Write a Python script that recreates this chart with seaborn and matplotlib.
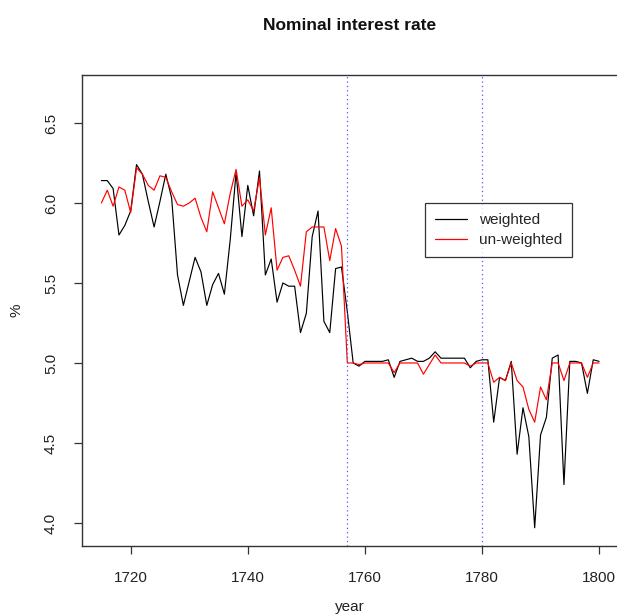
import numpy as np
import pandas as pd
import matplotlib
matplotlib.use("Agg")
import matplotlib.pyplot as plt
import seaborn as sns
from matplotlib.lines import Line2D

years = list(range(1715, 1801))
weighted = [6.14, 6.14, 6.09, 5.80, 5.86, 5.95, 6.24, 6.18, 6.01, 5.85,
            6.01, 6.18, 6.03, 5.55, 5.36, 5.51, 5.66, 5.57, 5.36, 5.49,
            5.56, 5.43, 5.77, 6.19, 5.79, 6.11, 5.92, 6.20, 5.55, 5.65,
            5.38, 5.50, 5.48, 5.48, 5.19, 5.31, 5.79, 5.95, 5.26, 5.19,
            5.59, 5.60, 5.32, 5.00, 4.98, 5.01, 5.01, 5.01, 5.01, 5.02,
            4.91, 5.01, 5.02, 5.03, 5.01, 5.01, 5.03, 5.07, 5.03, 5.03,
            5.03, 5.03, 5.03, 4.97, 5.01, 5.02, 5.02, 4.63, 4.91, 4.89,
            5.01, 4.43, 4.72, 4.54, 3.97, 4.55, 4.66, 5.03, 5.05, 4.24,
            5.01, 5.01, 5.00, 4.81, 5.02, 5.01]
unweighted = [6.00, 6.08, 5.98, 6.10, 6.08, 5.94, 6.22, 6.18, 6.11, 6.08,
              6.17, 6.16, 6.07, 5.99, 5.98, 6.00, 6.03, 5.91, 5.82, 6.07,
              5.97, 5.87, 6.06, 6.21, 5.98, 6.02, 5.95, 6.16, 5.80, 5.97,
              5.58, 5.66, 5.67, 5.58, 5.48, 5.82, 5.85, 5.85, 5.85, 5.64,
              5.84, 5.73, 5.00, 5.00, 4.99, 5.00, 5.00, 5.00, 5.00, 5.00,
              4.94, 5.00, 5.00, 5.00, 5.00, 4.93, 4.99, 5.05, 5.00, 5.00,
              5.00, 5.00, 5.00, 4.98, 5.00, 5.00, 5.00, 4.88, 4.91, 4.89,
              5.00, 4.89, 4.85, 4.71, 4.63, 4.85, 4.77, 5.00, 5.00, 4.89,
              5.00, 5.00, 5.00, 4.91, 5.00, 5.00]
series_names = ["weighted", "un-weighted"]
series_colors = ["black", "red"]
vlines = [1757, 1780]
xticks = [1720, 1740, 1760, 1780, 1800]
yticks = [4.0, 4.5, 5.0, 5.5, 6.0, 6.5]

df = pd.DataFrame({
    "year": years * 2,
    "value": weighted + unweighted,
    "series": [series_names[0]] * len(years) + [series_names[1]] * len(years),
})

sns.set_style("white")
plt.rcParams["font.family"] = ["Liberation Sans", "DejaVu Sans"]

fig = plt.figure(figsize=(6.17, 6.14), dpi=100)
ax = fig.add_axes([81.5 / 617, 1 - 546 / 614, 537.5 / 617, 471 / 614])

sns.lineplot(data=df, x="year", y="value", hue="series",
             palette=dict(zip(series_names, series_colors)),
             linewidth=0.85, ax=ax, legend=False)

for v in vlines:
    ax.axvline(v, color="#5555ff", linestyle=(0, (1, 2.5)), linewidth=0.9)

ax.set_xlim(1711.6, 1803.4)
ax.set_ylim(3.856, 6.8)
ax.set_xticks(xticks)
ax.set_xticklabels([str(t) for t in xticks], fontsize=11, color="#222222")
ax.set_yticks(yticks)
ax.set_yticklabels([f"{t:.1f}" for t in yticks], fontsize=11,
                   rotation=90, va="center", color="#222222")
ax.tick_params(axis="both", direction="out", length=6, width=0.9,
               color="#333333", left=True, bottom=True)
ax.tick_params(axis="x", pad=12)
ax.tick_params(axis="y", pad=11)
for s in ax.spines.values():
    s.set_visible(True)
    s.set_color("#333333")
    s.set_linewidth(1.0)

ax.set_xlabel("year", fontsize=11, color="#222222", labelpad=11)
ax.set_ylabel("%", fontsize=11, color="#222222", labelpad=15)

fig.text(350 / 617, 1 - 25 / 614, "Nominal interest rate", ha="center",
         va="center", fontsize=12.5, fontweight="bold", color="#111111")

handles = [Line2D([0], [0], color=c, linewidth=0.9) for c in series_colors]
leg = ax.legend(handles, series_names, loc="upper left",
                bbox_to_anchor=(0.639, 0.728), fontsize=11,
                frameon=True, fancybox=False, edgecolor="black",
                borderaxespad=0, handlelength=2.1, handletextpad=0.8,
                labelspacing=0.4, borderpad=0.65)
leg.get_frame().set_linewidth(0.9)

fig.savefig("out.png", dpi=100, facecolor="white")
